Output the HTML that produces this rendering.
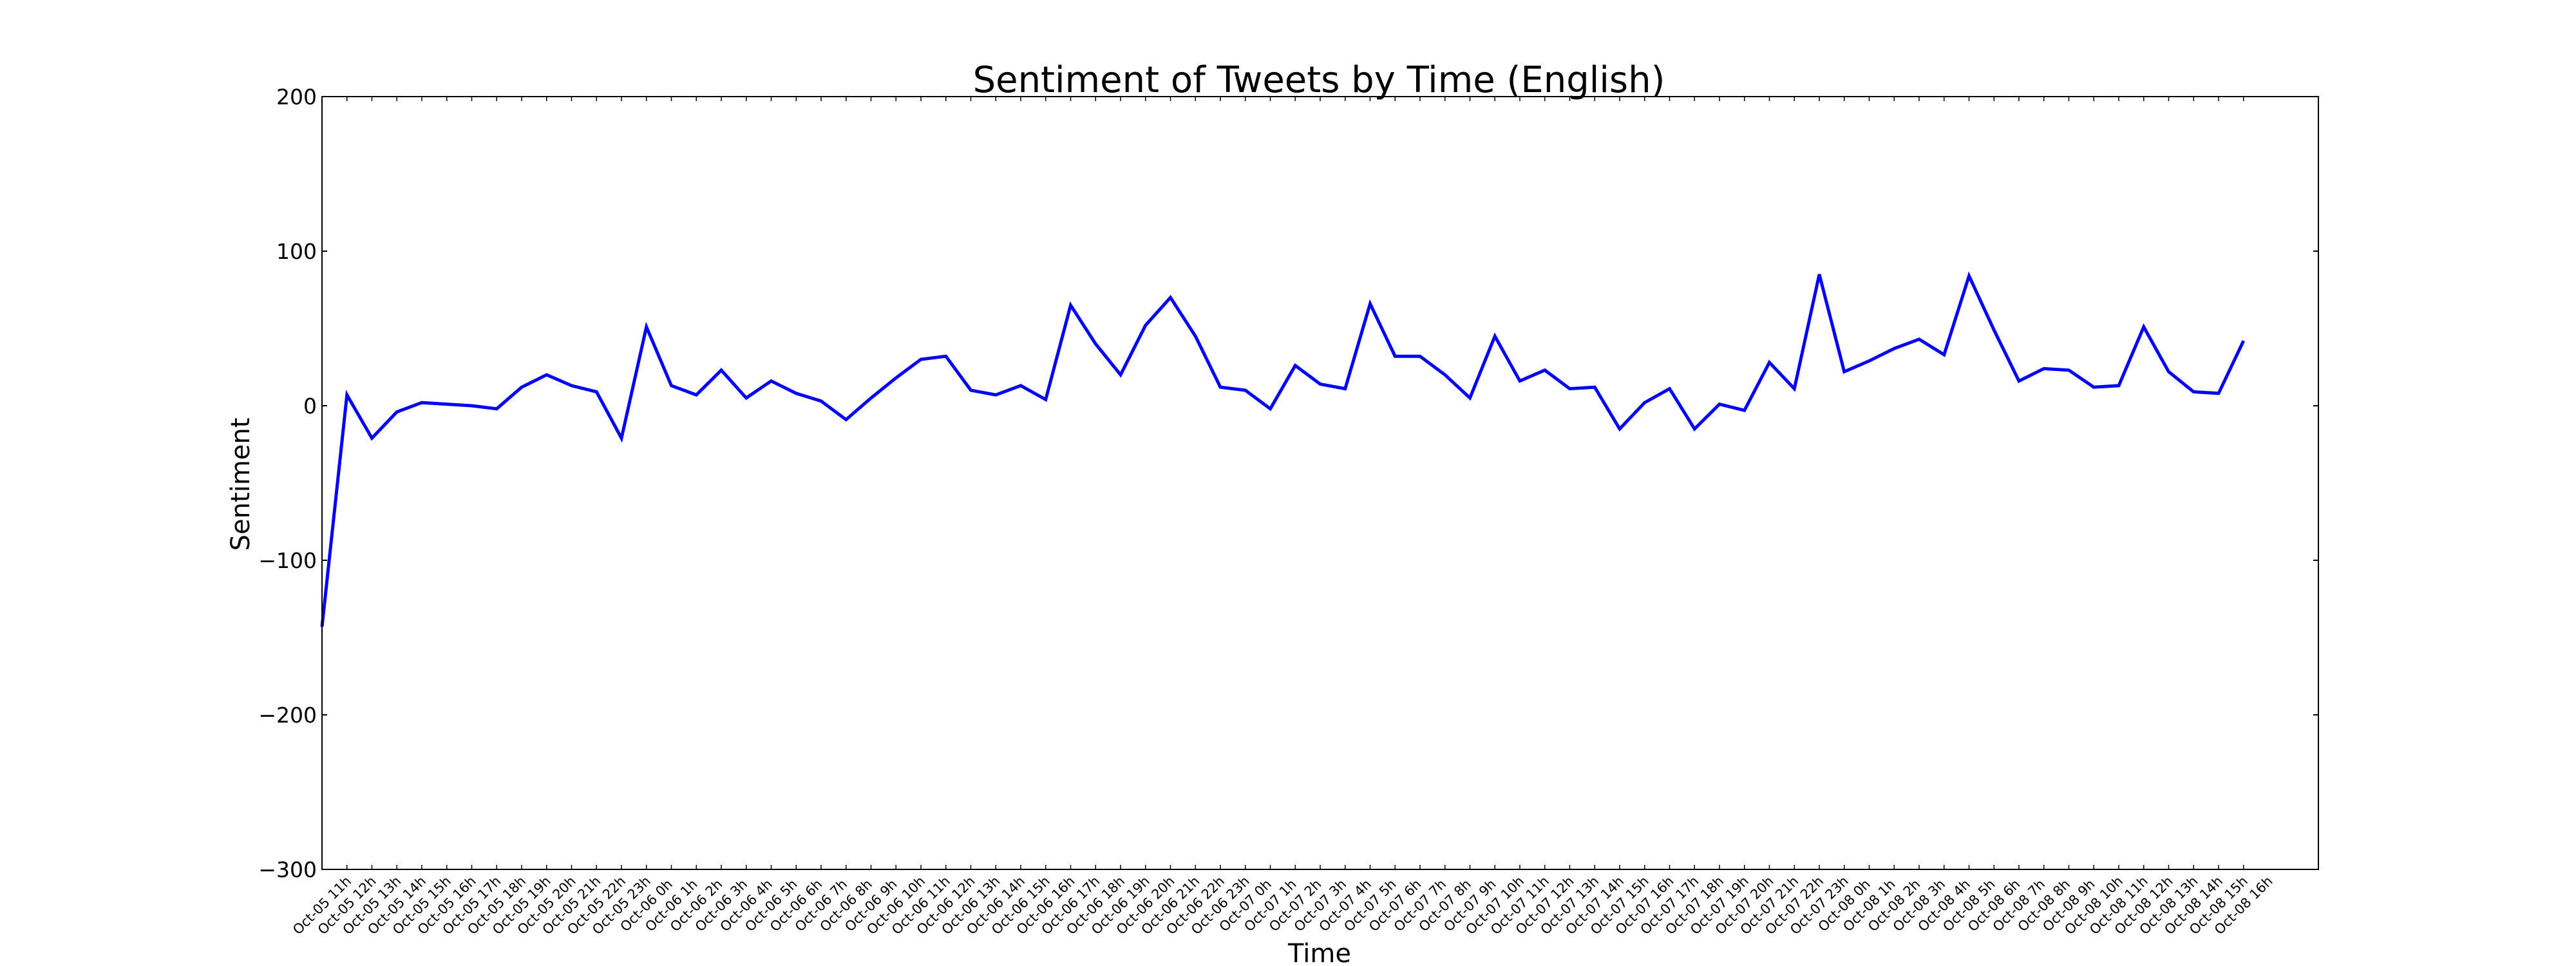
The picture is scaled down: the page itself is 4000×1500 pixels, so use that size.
<!DOCTYPE html>
<html><head><meta charset="utf-8"><style>
html,body{margin:0;padding:0;background:#fff;}
svg{display:block;font-family:"DejaVu Sans","Liberation Sans",sans-serif;}
</style></head><body>
<svg id="chart" width="4000" height="1500" viewBox="0 0 4000 1500" xmlns="http://www.w3.org/2000/svg">
<rect x="0" y="0" width="4000" height="1500" fill="#fff"/>
<text x="2048" y="143" font-size="56" text-anchor="middle">Sentiment of Tweets by Time (English)</text>
<text x="2049" y="1494" font-size="40" text-anchor="middle">Time</text>
<text transform="translate(387,752) rotate(-90)" font-size="40" text-anchor="middle">Sentiment</text>
<g id="ticks"></g>
<g id="marks"></g>
<rect x="500" y="150" width="3100" height="1200" fill="none" stroke="#000" stroke-width="2"/>
</svg>
<script>
const dayLabels = ["Oct-05","Oct-06","Oct-07","Oct-08"];
const startHours = [11,0,0,0];
const endHours = [23,23,23,16];
const sentimentValues = [-143,7,-21,-4,2,1,0,-2,12,20,13,9,-21,51,13,7,23,5,16,8,3,-9,5,18,30,32,10,7,13,4,65,40,20,52,70,45,12,10,-2,26,14,11,66,32,32,20,5,45,16,23,11,12,-15,2,11,-15,1,-3,28,11,85,22,29,37,43,33,84,49,16,24,23,12,13,51,22,9,8,42];
const yTickValues = [200,100,0,-100,-200,-300];
const yTickLabels = ["200","100","0","\u2212100","\u2212200","\u2212300"];

const categories = [];
for (let d = 0; d < dayLabels.length; d++) {
  for (let h = startHours[d]; h <= endHours[d]; h++) categories.push(dayLabels[d] + " " + h + "h");
}
const X0 = 500, X1 = 3600, Y0 = 150, Y1 = 1350;
const xMin = 0, xMax = 80, yMin = -300, yMax = 200;
function xScale(i){ return X0 + (i - xMin) / (xMax - xMin) * (X1 - X0); }
function yScale(v){ return Y1 - (v - yMin) / (yMax - yMin) * (Y1 - Y0); }
const NS = "http://www.w3.org/2000/svg";
const ticks = document.getElementById("ticks");
const marks = document.getElementById("marks");

yTickValues.forEach((v, k) => {
  const y = yScale(v);
  const tl = document.createElementNS(NS, "line");
  tl.setAttribute("x1", X0); tl.setAttribute("x2", X0 + 8);
  tl.setAttribute("y1", y); tl.setAttribute("y2", y);
  tl.setAttribute("stroke", "#000"); tl.setAttribute("stroke-width", "2");
  
  
  ticks.appendChild(tl);
  const tr = document.createElementNS(NS, "line");
  tr.setAttribute("x1", X1 - 8); tr.setAttribute("x2", X1);
  tr.setAttribute("y1", y); tr.setAttribute("y2", y);
  tr.setAttribute("stroke", "#000"); tr.setAttribute("stroke-width", "2");
  
  
  ticks.appendChild(tr);
  const t = document.createElementNS(NS, "text");
  t.setAttribute("x", X0 - 8); t.setAttribute("y", y + 12);
  t.setAttribute("font-size", "33"); t.setAttribute("text-anchor", "end");
  t.textContent = yTickLabels[k];
  
  
  ticks.appendChild(t);
});

categories.forEach((c, i) => {
  const x = xScale(i);
  const b = document.createElementNS(NS, "line");
  b.setAttribute("x1", x); b.setAttribute("x2", x);
  b.setAttribute("y1", Y1); b.setAttribute("y2", Y1 - 7);
  b.setAttribute("stroke", "#000"); b.setAttribute("stroke-width", "1.5");
  
  
  ticks.appendChild(b);
  const tp = document.createElementNS(NS, "line");
  tp.setAttribute("x1", x); tp.setAttribute("x2", x);
  tp.setAttribute("y1", Y0); tp.setAttribute("y2", Y0 + 7);
  tp.setAttribute("stroke", "#000"); tp.setAttribute("stroke-width", "1.5");
  
  
  ticks.appendChild(tp);
  const t = document.createElementNS(NS, "text");
  t.setAttribute("x", x); t.setAttribute("y", 1406);
  t.setAttribute("font-size", "21"); t.setAttribute("text-anchor", "middle");
  t.setAttribute("dominant-baseline", "central");
  t.setAttribute("transform", "rotate(-45 " + x + " 1406)");
  t.textContent = c;
  
  
  ticks.appendChild(t);
});

const pts = sentimentValues.map((v, i) => xScale(i) + "," + yScale(v)).join(" ");
const line = document.createElementNS(NS, "polyline");
line.setAttribute("points", pts);
line.setAttribute("fill", "none");
line.setAttribute("stroke", "#0000ff");
line.setAttribute("stroke-width", "5");
line.setAttribute("stroke-linejoin", "miter");


marks.appendChild(line);
</script>
</body></html>
